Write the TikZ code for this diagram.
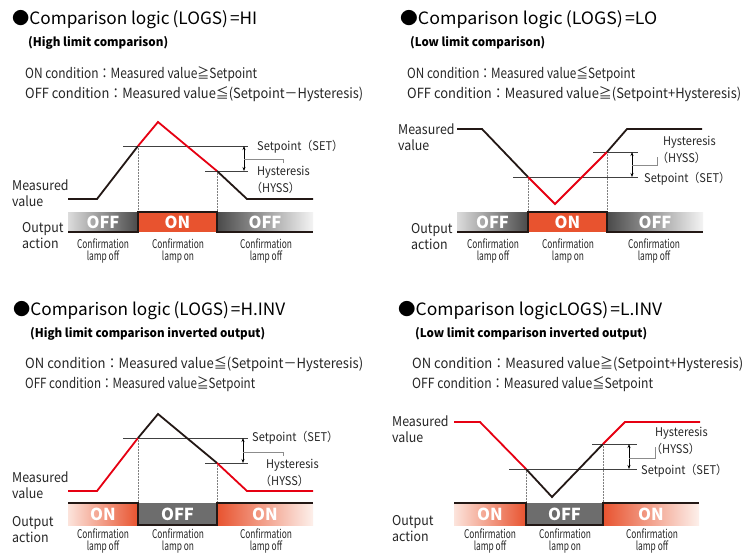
\documentclass[tikz,border=0pt]{standalone}
\usepackage{fontspec}
\usepackage{graphicx}
\setmainfont{Noto Sans CJK JP}
\newfontfamily\condfont[FakeStretch=0.92]{Noto Sans CJK JP}
\newfontfamily\narrowfont[FakeStretch=0.7]{Noto Sans CJK JP}
\usetikzlibrary{arrows.meta}
\definecolor{mred}{HTML}{E60012}
\definecolor{morange}{HTML}{E8532F}
\definecolor{mgray}{HTML}{6D6D6D}
\definecolor{mdark}{HTML}{4A4A4A}
\definecolor{mlight}{HTML}{DCDCDC}
\definecolor{mwhite}{HTML}{F4F4F4}
\definecolor{mpink}{HTML}{FCE4DC}
\definecolor{mpink2}{HTML}{FDF0EB}
\definecolor{mblack}{HTML}{231815}
\definecolor{mguide}{HTML}{808080}
\newsavebox\fitbox
\newcommand\fitw[2]{\sbox\fitbox{#2}\pgfmathsetmacro\fitr{#1/\the\wd\fitbox}\scalebox{\fitr}[1]{\usebox\fitbox}}
\begin{document}
\begin{tikzpicture}[x=1pt,y=-1pt,
  title/.style={anchor=west,inner sep=0,font=\fontsize{17}{17}\selectfont},
  subtitle/.style={anchor=west,inner sep=0,font=\fontsize{12}{12}\selectfont\bfseries},
  cond/.style={anchor=west,inner sep=0,text=black!85,font=\condfont\fontsize{14}{14}\selectfont},
  lbl/.style={anchor=west,inner sep=0,align=left,text=black!85,font=\condfont\fontsize{13.5}{16}\selectfont},
  small/.style={anchor=west,inner sep=0,text=black!85,font=\condfont\fontsize{12}{12}\selectfont},
  lamp/.style={inner sep=0,align=center,text=black!85,font=\narrowfont\fontsize{12}{12}\selectfont},
  seg/.style={inner sep=0,outer sep=0,minimum height=20,text=white,font=\fontsize{16.5}{16.5}\selectfont\bfseries},
  seghi/.style={seg,minimum height=22},
  blk/.style={line width=1.8pt,mblack},
  rd/.style={line width=1.8pt,mred},
  thr/.style={line width=0.7pt,black!75},
  guide/.style={line width=0.5pt,mguide,densely dotted},
  stepline/.style={line width=1.6pt,mblack},
  dimarrow/.style={line width=0.6pt,black,{Stealth[length=4pt,width=3pt]}-{Stealth[length=4pt,width=3pt]}},
  brk/.style={line width=0.7pt,black!45}
]
\useasboundingbox (0,0) rectangle (745,560);
\fill[white] (0,0) rectangle (745,560);

% ================= Q1 : HI =================
\node[title] (t1) at (12,20) {\fitw{245}{●Comparison logic\hspace{3pt}(LOGS)\hspace{2pt}=HI}};
\node[subtitle] (s1) at (28,43) {\fitw{140}{(High limit comparison)}};
\node[cond] (c1on) at (25,74) {\fitw{232}{ON condition：Measured value≧Setpoint}};
\node[cond] (c1off) at (25,94) {\fitw{338}{OFF condition：Measured value≦(Setpoint－Hysteresis)}};
\node[seg,minimum width=70,left color=mlight,right color=mdark] (b1a) at (103,222) {OFF};
\node[seg,minimum width=79,fill=morange] (b1b) at (177.5,222) {ON};
\node[seg,minimum width=96,left color=mdark,right color=mwhite] (b1c) at (265,222) {OFF};
\coordinate (p1a) at (68,199); \coordinate (p1b) at (97,199);
\coordinate (p1c) at (138,146); \coordinate (p1d) at (158,122);
\coordinate (p1e) at (217,171); \coordinate (p1f) at (247,199);
\coordinate (p1g) at (313,199);
\coordinate (sp1l) at (123,146); \coordinate (sp1r) at (248,146);
\coordinate (hy1l) at (205,171); \coordinate (hy1r) at (248,171);
\coordinate (ar1t) at (244,146); \coordinate (ar1b) at (244,171);
\coordinate (br1a) at (244,159); \coordinate (br1b) at (283,163);
\draw[guide] (p1c) -- (p1c |- b1b.north);
\draw[guide] (p1e) -- (p1e |- b1c.north);
\draw[stepline] (b1a.south west) -- (b1b.south west) -- (b1b.north west) -- (b1b.north east) -- (b1b.south east) -- (b1c.south east);
\draw[thr] (sp1l) -- (sp1r);
\draw[thr] (hy1l) -- (hy1r);
\draw[dimarrow] (ar1t) -- (ar1b);
\draw[brk] (br1a) -| (br1b);
\draw[blk] (p1a) -- (p1b) -- (p1c);
\draw[rd] (p1c) -- (p1d) -- (p1e);
\draw[blk] (p1e) -- (p1f) -- (p1g);
\node[small] (sp1) at (257,147) {Setpoint（SET）};
\node[small] (hy1) at (257,172) {Hysteresis};
\node[small] (hs1) at (251,188) {（HYSS）};
\node[lbl] (mv1) at (12,193.5) {Measured\\value};
\node[lbl] (oa1) at (22,236) {Output\\action};
\node[lamp] (l1a) at (103,251) {Confirmation\\lamp off};
\node[lamp] (l1b) at (178,251) {Confirmation\\lamp on};
\node[lamp] (l1c) at (266,251) {Confirmation\\lamp off};

% ================= Q2 : LO =================
\node[title] (t2) at (400,20) {\fitw{257}{●Comparison logic\hspace{3pt}(LOGS)\hspace{2pt}=LO}};
\node[subtitle] (s2) at (410,43) {\fitw{135}{(Low limit comparison)}};
\node[cond] (c2on) at (407,74) {\fitw{228}{ON condition：Measured value≦Setpoint}};
\node[cond] (c2off) at (407,94) {\fitw{334}{OFF condition：Measured value≧(Setpoint+Hysteresis)}};
\node[seg,minimum width=71,left color=mlight,right color=mdark] (b2a) at (492.5,222) {OFF};
\node[seg,minimum width=79,fill=morange] (b2b) at (567.5,222) {ON};
\node[seg,minimum width=96,left color=mdark,right color=mwhite] (b2c) at (655,222) {OFF};
\coordinate (q2a) at (457,129); \coordinate (q2b) at (482,129);
\coordinate (q2c) at (528,177); \coordinate (q2d) at (555,204);
\coordinate (q2e) at (607,152); \coordinate (q2f) at (627,129);
\coordinate (q2g) at (702,129);
\coordinate (sp2l) at (513,177); \coordinate (sp2r) at (638,177);
\coordinate (hy2l) at (593,152); \coordinate (hy2r) at (638,152);
\coordinate (ar2t) at (632,152); \coordinate (ar2b) at (632,177);
\coordinate (br2a) at (632,165); \coordinate (br2b) at (657,157);
\draw[guide] (q2c) -- (q2c |- b2b.north);
\draw[guide] (q2e) -- (q2e |- b2c.north);
\draw[stepline] (b2a.south west) -- (b2b.south west) -- (b2b.north west) -- (b2b.north east) -- (b2b.south east) -- (b2c.south east);
\draw[thr] (sp2l) -- (sp2r);
\draw[thr] (hy2l) -- (hy2r);
\draw[dimarrow] (ar2t) -- (ar2b);
\draw[brk] (br2a) -| (br2b);
\draw[blk] (q2a) -- (q2b) -- (q2c);
\draw[rd] (q2c) -- (q2d) -- (q2e);
\draw[blk] (q2e) -- (q2f) -- (q2g);
\node[small] (hy2) at (663,142) {Hysteresis};
\node[small] (hs2) at (657,158) {（HYSS）};
\node[small] (sp2) at (644,179) {Setpoint（SET）};
\node[lbl] (mv2) at (398,137) {Measured\\value};
\node[lbl] (oa2) at (411,236.5) {Output\\action};
\node[lamp] (l2a) at (493,251) {Confirmation\\lamp off};
\node[lamp] (l2b) at (568,251) {Confirmation\\lamp on};
\node[lamp] (l2c) at (654,251) {Confirmation\\lamp off};

% ================= Q3 : H.INV =================
\node[title] (t3) at (13,311) {\fitw{272}{●Comparison logic\hspace{3pt}(LOGS)\hspace{2pt}=H.INV}};
\node[subtitle] (s3) at (30,334) {\fitw{235}{(High limit comparison inverted output)}};
\node[cond] (c3on) at (25,364) {\fitw{338}{ON condition：Measured value≦(Setpoint－Hysteresis)}};
\node[cond] (c3off) at (25,384) {\fitw{230}{OFF condition：Measured value≧Setpoint}};
\node[seghi,minimum width=70,left color=mpink,right color=morange] (b3a) at (103,514) {ON};
\node[seghi,minimum width=79,fill=mgray] (b3b) at (177.5,514) {OFF};
\node[seghi,minimum width=96,left color=morange,right color=mpink2] (b3c) at (265,514) {ON};
\coordinate (r3a) at (68,491); \coordinate (r3b) at (97,491);
\coordinate (r3c) at (138,438); \coordinate (r3d) at (158,414);
\coordinate (r3e) at (217,463); \coordinate (r3f) at (247,491);
\coordinate (r3g) at (313,491);
\coordinate (sp3l) at (123,438); \coordinate (sp3r) at (248,438);
\coordinate (hy3l) at (205,463); \coordinate (hy3r) at (248,463);
\coordinate (ar3t) at (243,438); \coordinate (ar3b) at (243,463);
\coordinate (br3a) at (243,452); \coordinate (br3b) at (283,456);
\draw[guide] (r3c) -- (r3c |- b3b.north);
\draw[guide] (r3e) -- (r3e |- b3c.north);
\draw[stepline] (b3a.north west) -- (b3b.north west) -- (b3b.south west) -- (b3b.south east) -- (b3b.north east) -- (b3c.north east);
\draw[thr] (sp3l) -- (sp3r);
\draw[thr] (hy3l) -- (hy3r);
\draw[dimarrow] (ar3t) -- (ar3b);
\draw[brk] (br3a) -| (br3b);
\draw[rd] (r3a) -- (r3b) -- (r3c);
\draw[blk] (r3c) -- (r3d) -- (r3e);
\draw[rd] (r3e) -- (r3f) -- (r3g);
\node[small] (sp3) at (252,438) {Setpoint（SET）};
\node[small] (hy3) at (266,465) {Hysteresis};
\node[small] (hs3) at (260,481) {（HYSS）};
\node[lbl] (mv3) at (12,485.5) {Measured\\value};
\node[lbl] (oa3) at (12,529.5) {Output\\action};
\node[lamp] (l3a) at (103,541) {Confirmation\\lamp off};
\node[lamp] (l3b) at (178,541) {Confirmation\\lamp on};
\node[lamp] (l3c) at (266,541) {Confirmation\\lamp off};

% ================= Q4 : L.INV =================
\node[title] (t4) at (398,311) {\fitw{264}{●Comparison logicLOGS)\hspace{2pt}=L.INV}};
\node[subtitle] (s4) at (415,334) {\fitw{232}{(Low limit comparison inverted output)}};
\node[cond] (c4on) at (412,364) {\fitw{331}{ON condition：Measured value≧(Setpoint+Hysteresis)}};
\node[cond] (c4off) at (412,384) {\fitw{241}{OFF condition：Measured value≦Setpoint}};
\node[seghi,minimum width=72,left color=mpink,right color=morange] (b4a) at (490,514) {ON};
\node[seghi,minimum width=77,fill=mgray] (b4b) at (564.5,514) {OFF};
\node[seghi,minimum width=96,left color=morange,right color=mpink2] (b4c) at (651,514) {ON};
\coordinate (u4a) at (454,422); \coordinate (u4b) at (480,422);
\coordinate (u4c) at (526,469); \coordinate (u4d) at (552,497);
\coordinate (u4e) at (603,444); \coordinate (u4f) at (625,422);
\coordinate (u4g) at (700,422);
\coordinate (sp4l) at (509,469); \coordinate (sp4r) at (637,469);
\coordinate (hy4l) at (592,444); \coordinate (hy4r) at (637,444);
\coordinate (ar4t) at (629,444); \coordinate (ar4b) at (629,469);
\coordinate (br4a) at (629,458); \coordinate (br4b) at (655,447);
\draw[guide] (u4c) -- (u4c |- b4b.north);
\draw[guide] (u4e) -- (u4e |- b4c.north);
\draw[stepline] (b4a.north west) -- (b4b.north west) -- (b4b.south west) -- (b4b.south east) -- (b4b.north east) -- (b4c.north east);
\draw[thr] (sp4l) -- (sp4r);
\draw[thr] (hy4l) -- (hy4r);
\draw[dimarrow] (ar4t) -- (ar4b);
\draw[brk] (br4a) -| (br4b);
\draw[rd] (u4a) -- (u4b) -- (u4c);
\draw[blk] (u4c) -- (u4d) -- (u4e);
\draw[rd] (u4e) -- (u4f) -- (u4g);
\node[small] (hy4) at (655,433) {Hysteresis};
\node[small] (hs4) at (651,449) {（HYSS）};
\node[small] (sp4) at (641,471) {Setpoint（SET）};
\node[lbl] (mv4) at (392,429.5) {Measured\\value};
\node[lbl] (oa4) at (392,529) {Output\\action};
\node[lamp] (l4a) at (490,541) {Confirmation\\lamp off};
\node[lamp] (l4b) at (565,541) {Confirmation\\lamp on};
\node[lamp] (l4c) at (652,541) {Confirmation\\lamp off};
\end{tikzpicture}
\end{document}
